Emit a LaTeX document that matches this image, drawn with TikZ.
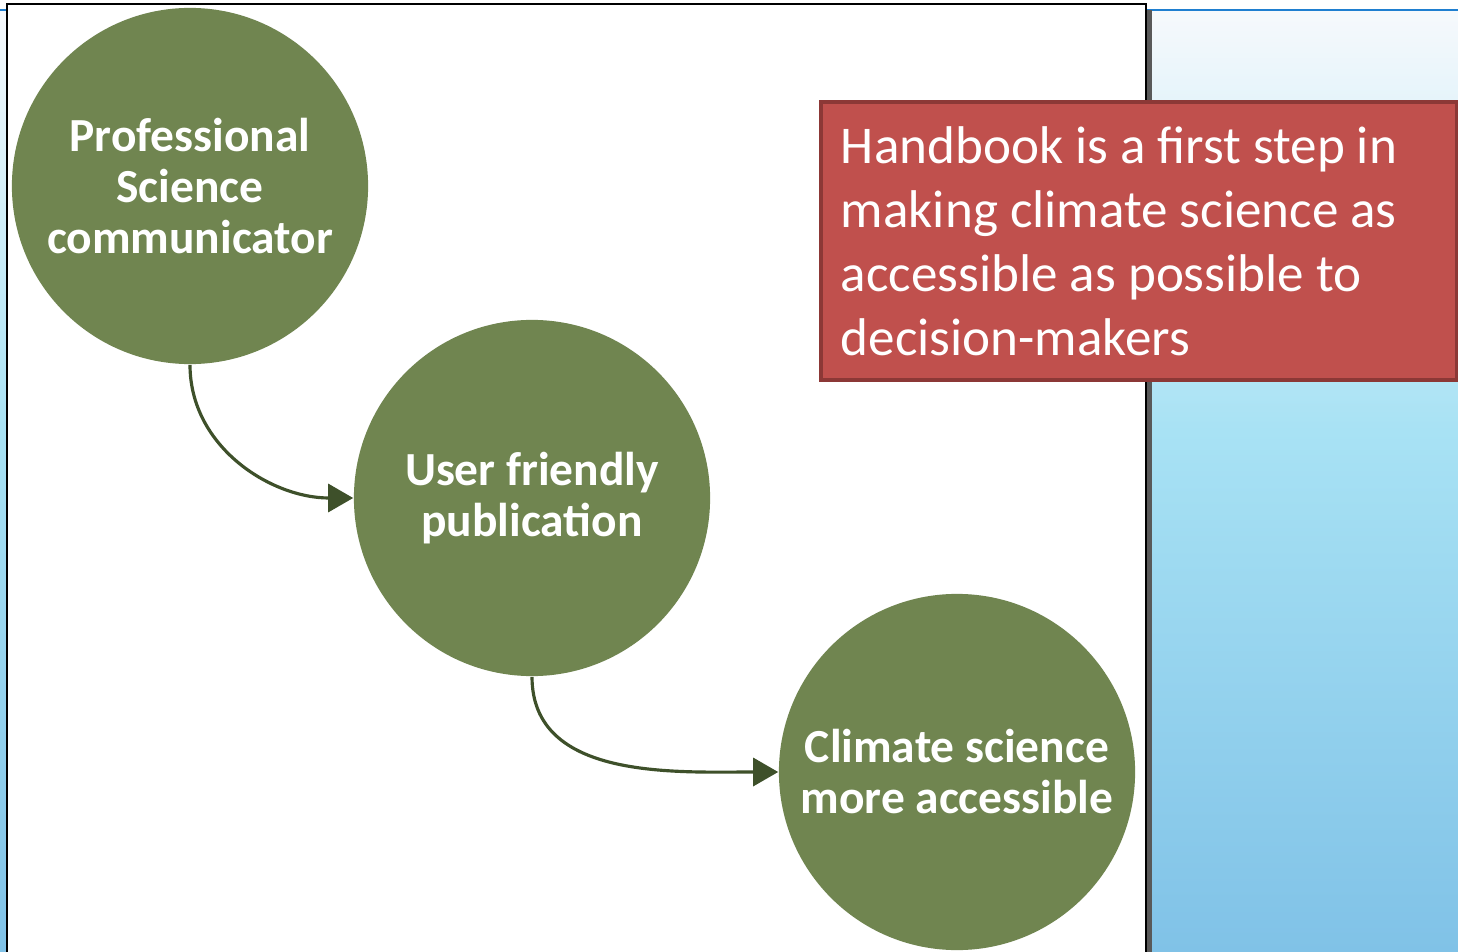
\documentclass[tikz,border=0pt]{standalone}
\usepackage{fontspec}
\setmainfont{Carlito}
\usetikzlibrary{arrows.meta}

\definecolor{stepgreen}{RGB}{112,133,80}
\definecolor{arrowgreen}{RGB}{62,80,42}
\definecolor{boxred}{RGB}{192,80,77}
\definecolor{boxdark}{RGB}{140,56,54}
\definecolor{skytop}{RGB}{246,249,252}
\definecolor{skymid}{RGB}{168,226,244}
\definecolor{skylow}{RGB}{128,194,231}
\definecolor{slideline}{RGB}{31,127,208}

\begin{document}
\begin{tikzpicture}[x=0.01cm,y=-0.01cm,
  stepcircle/.style={circle,fill=stepgreen,minimum size=3.56cm,inner sep=0pt,text=white,align=center,font=\bfseries\fontsize{13.5}{14.5}\selectfont},
  steparrow/.style={-{Triangle[length=0.25cm,width=0.28cm]},arrowgreen,line width=0.9pt}]
\useasboundingbox (0,0) rectangle (1458,952);

% slide background
\fill[white] (0,0) rectangle (1458,952);
\shade[top color=skytop,bottom color=skymid] (1147,12) rectangle (1458,430);
\shade[top color=skymid,bottom color=skylow] (1147,430) rectangle (1458,952);
\shade[top color=skytop,bottom color=skymid] (0,12) rectangle (7,430);
\shade[top color=skymid,bottom color=skylow] (0,430) rectangle (7,952);
\draw[slideline,line width=0.6pt] (1147,10) -- (1458,10);
\draw[slideline,line width=0.6pt] (0,10) -- (7,10);
\fill[gray!70!black] (1146,10) rectangle (1152,952);

% white panel
\draw[black,fill=white,line width=0.6pt] (7,4) rectangle (1146,960);

% steps
\node[stepcircle] (pro) at (190,186) {Professional\\Science\\communicator};
\node[stepcircle] (pub) at (532,498) {User friendly\\publication};
\node[stepcircle] (acc) at (957,772) {Climate science\\more accessible};

\draw[steparrow] (pro.south) to[out=-90,in=180] (pub.west);
\draw[steparrow] (pub.south) to[out=-90,in=180] (acc.west);

% note
\node[anchor=north west,draw=boxdark,line width=1.1pt,fill=boxred,text=white,
  minimum width=6.36cm,minimum height=2.78cm,text width=5.96cm,inner xsep=0.2cm,align=left,
  execute at begin node={\spaceskip=0pt\xspaceskip=0pt\relax},
  font=\fontsize{15.1}{18.2}\selectfont] (note) at (819,100)
  {Handbook is a first step in\\making climate science as\\accessible as possible to\\decision-makers};

\end{tikzpicture}
\end{document}
